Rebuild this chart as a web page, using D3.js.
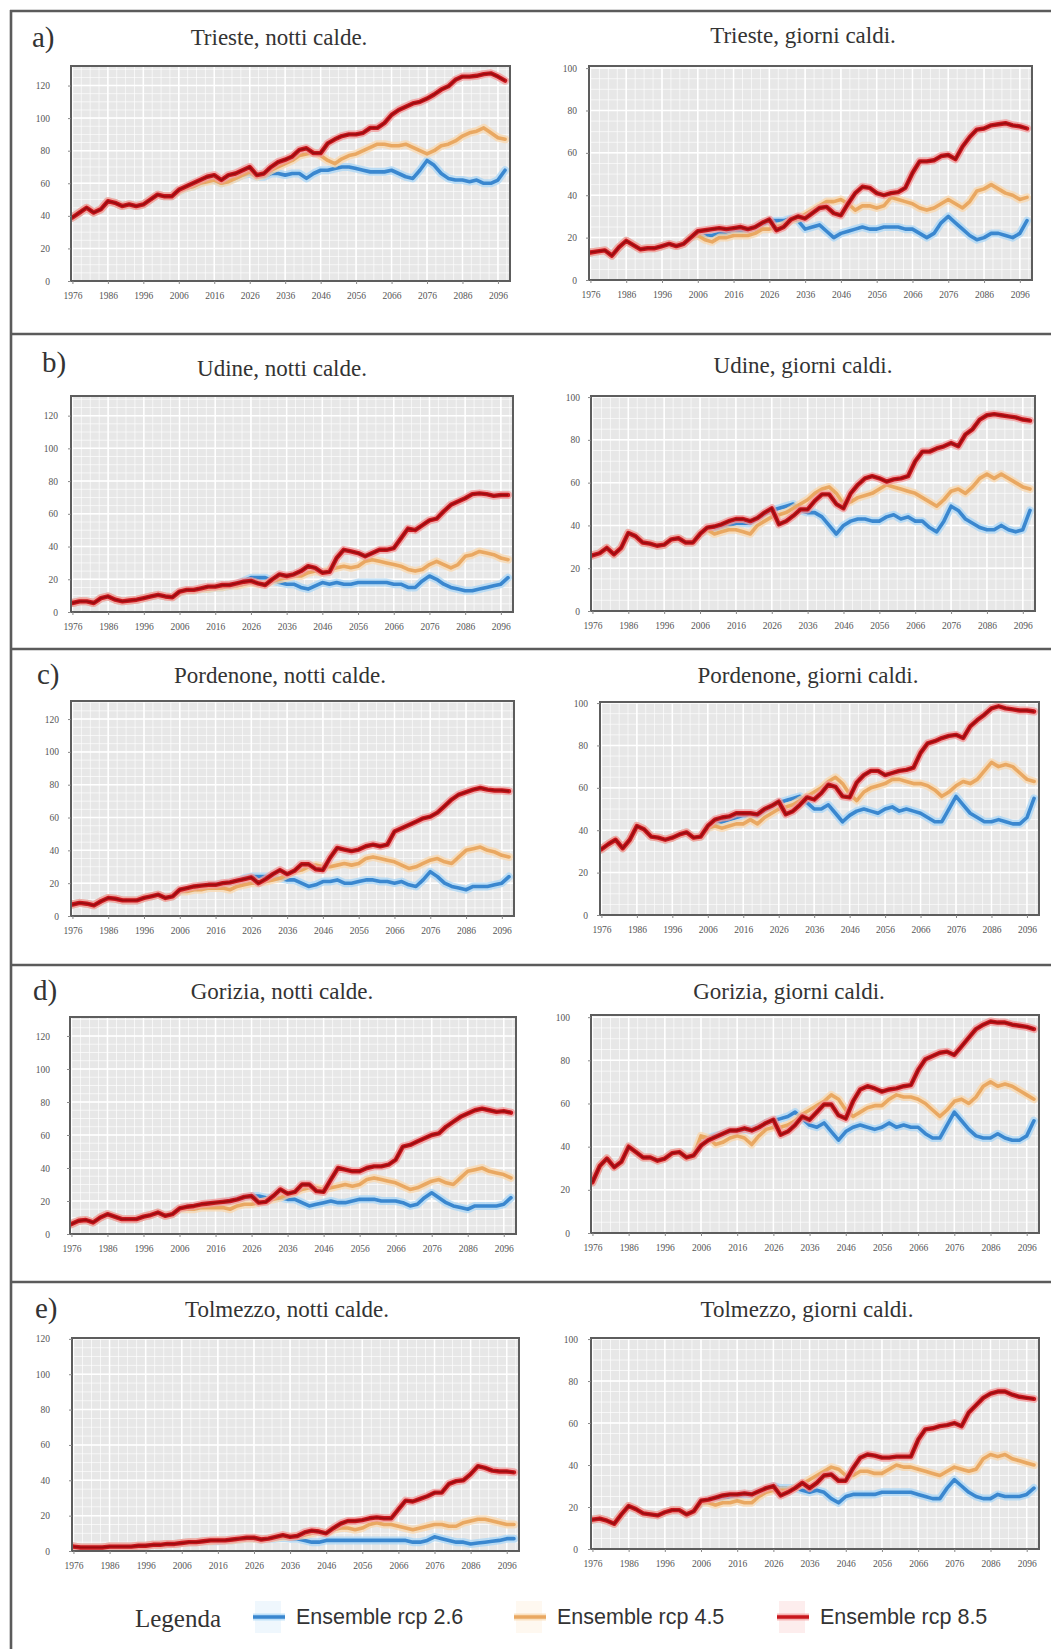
<!DOCTYPE html>
<html><head><meta charset="utf-8">
<script src="https://cdn.jsdelivr.net/npm/d3@7"></script>
<style>body{margin:0;background:#fff} svg{display:block}</style>
</head><body>
<svg id="c" width="1051" height="1649"></svg>
<script>
// ---------- categories / ticks ----------
const histYears = d3.range(1976, 2005, 2);   // 1976..2004
const scenYears = d3.range(2006, 2099, 2);   // 2006..2098
const xTickLabels = ["1976","1986","1996","2006","2016","2026","2036","2046","2056","2066","2076","2086","2096"];
const nightTicks = [0,20,40,60,80,100,120];
const dayTicks = [0,20,40,60,80,100];
const seriesNames = ["Ensemble rcp 2.6","Ensemble rcp 4.5","Ensemble rcp 8.5"];
const rowLetters = ["a)","b)","c)","d)","e)"];
const panelTitles = ["Trieste, notti calde.","Trieste, giorni caldi.","Udine, notti calde.","Udine, giorni caldi.",
  "Pordenone, notti calde.","Pordenone, giorni caldi.","Gorizia, notti calde.","Gorizia, giorni caldi.",
  "Tolmezzo, notti calde.","Tolmezzo, giorni caldi."];

// ---------- data (hist 1976-2004 every 2 yrs; scenarios 2006-2098 every 2 yrs) ----------
const triesteNottiHist = [39,42,45,42,44,49,48,46,47,46,47,50,53,52,52];
const triesteNotti85 = [56,58,60,62,64,65,62,65,66,68, 70,65,66,70,73,74.5,76.5,80.5,81.5,78.5, 78.5,84.5,87,89,90,90,91,94,94,97, 102,105,107,109,110,112,114.5,117.5,119.5,123.5, 125.5,125.5,126,127,127.5,125.5,123];
const triesteNotti45 = [55,57,58,60,61,62,60,61,63,65, 67,64,65,68,70,72,74,77,78,79, 77,74,72,75,77,78,80,82,84,84, 83,83,84,82,80,78,80,83,84,86, 89,91,92,94,91,88,87];
const triesteNotti26 = [55,57,58,60,62,62,60,62,63,65, 66,64,64,66,66,65,66,66,63,66, 68,68,69,70,70,69,68,67,67,67, 68,66,64,63,68,74,71,66,63,62, 62,61,62,60,60,62,68];

const triesteGiorniHist = [13,13.5,14,11.5,15.5,18.5,16.5,14.5,15,15,16,17,16,17,20];
const triesteGiorni85 = [23,23.5,24,24.5,24,24.5,25,24,25,27, 28.5,23.5,25,28.5,30,29,31.5,34,34.5,31.5, 30.5,36,41,44,43.5,41,40,41,41.5,43.5, 50.5,56,56,56.5,58.5,59,57,63,67.5,71, 71.5,73,73.5,74,73,72.5,71.5];
const triesteGiorni45 = [21,19,18,20,20,21,21,21,22,24, 24,25,26,28,29,31,33,35,37,37, 38,36,33,35,35,34,35,39,38,37, 36,34,33,34,36,38,36,34,37,42, 43,45,43,41,40,38,39];
const triesteGiorni26 = [21,21,21,22,22,23,23,23,24,26, 28,28,28,29,28,24,25,26,23,20, 22,23,24,25,24,24,25,25,25,24, 24,22,20,22,27,30,27,24,21,19, 20,22,22,21,20,22,28];

const udineNottiHist = [5.5,6.5,6.5,5.5,8.5,9.5,7.5,6.5,7,7.5,8.5,9.5,10.5,9.5,9];
const udineNotti85 = [12.5,13.5,13.5,14.5,15.5,15.5,16.5,16.5,17.5,18.5, 19,17.5,16.5,20,23,22,23,25,28,27, 24,24.5,33,38,37,36,34,36,38,38, 39,45,51,50,53,56,57,61.5,65.5,67.5, 69.5,72,72.5,72,71,71.5,71.5];
const udineNotti45 = [12,13,13,14,14,15,15,16,16,17, 18,17,17,19,20,21,22,22,24,25, 24,26,27,28,27,28,31,32,31,30, 29,28,26,25,26,29,31,29,27,29, 34,35,37,36,35,33,32];
const udineNotti26 = [12,13,13,14,14,15,15,16,17,19, 21,21,21,19,18,17,17,15,14,16, 18,17,18,17,17,18,18,18,18,18, 17,17,15,15,19,22,20,17,15,14, 13,13,14,15,16,17,21];

const udineGiorniHist = [26,27,29.5,26.5,29.5,36.5,35,32,31.5,30.5,31,33.5,34,32,32];
const udineGiorni85 = [36,39,39.5,40.5,42,43,43,42,43.5,46, 48,40.5,42,44.5,47.5,47.5,51.5,54.5,54.5,50, 48,55,59,62,63,62,60.5,61.5,62,63, 70,74.5,74.5,76,77,78.5,77,82.5,85,89.5, 91.5,92,91.5,91,90.5,89.5,89];
const udineGiorni45 = [36,38,36,37,38,38,37,36,40,42, 44,45,46,48,50,52,55,57,58,55, 50,51,53,54,55,57,59,58,57,56, 55,53,51,49,52,56,57,55,58,62, 64,62,64,62,60,58,57];
const udineGiorni26 = [36,38,38,39,40,41,41,41,43,45, 47,48,49,50,47,46,46,44,40,36, 40,42,43,43,42,42,44,45,43,44, 42,42,39,37,42,49,47,43,41,39, 38,38,40,38,37,38,47];

const pordenoneNottiHist = [7,8,7.5,6.5,9,11,10.5,9.5,9.5,9.5,11,12,13,11,12];
const pordenoneNotti85 = [16,17,18,18.5,19,19,20,20.5,21.5,22.5, 23.5,20,22.5,25.5,28,25.5,27.5,31.5,31.5,28.5, 28,35.5,41.5,40.5,39.5,40.5,42.5,43.5,42.5,43.5, 51.5,53.5,55.5,57.5,59.5,60.5,63,67,71,74, 75.5,77,78,77,76.5,76.5,76];
const pordenoneNotti45 = [15,15,16,16,17,17,17,16,18,19, 20,20,21,22,23,25,27,28,30,31, 30,30,31,32,31,32,35,36,35,34, 33,31,29,30,32,34,35,33,32,36, 40,41,42,40,39,37,36];
const pordenoneNotti26 = [15,16,17,18,18,19,19,20,21,23, 24,24,24,24,23,22,22,20,18,19, 21,21,22,20,20,21,22,22,21,21, 20,21,19,18,22,27,24,20,18,17, 16,18,18,18,19,20,24];

const pordenoneGiorniHist = [31,33.5,35.5,31.5,35.5,42,40.5,37,36.5,35.5,36.5,38,39,36.5,37];
const pordenoneGiorni85 = [42,45,46,46.5,48,48,48,47.5,50,51.5, 53.5,47.5,49,52,55.5,54.5,57.5,61.5,60.5,56, 55.5,62.5,66,68,68,66,67,68,68.5,69.5, 76.5,81,82,83.5,84.5,85,83.5,89,92,94.5, 97.5,98.5,97.5,97,96.5,96.5,96];
const pordenoneGiorni45 = [41,42,41,42,43,43,45,43,46,48, 50,51,52,54,56,58,60,63,65,62, 57,54,58,60,61,62,64,64,63,62, 62,61,59,56,58,61,63,62,64,68, 72,70,71,70,67,64,63];
const pordenoneGiorni26 = [41,43,44,45,46,47,47,47,49,51, 53,54,55,56,53,50,50,52,48,44, 47,49,50,49,48,50,51,49,50,49, 48,46,44,44,50,56,52,48,46,44, 44,45,44,43,43,46,55];

const goriziaNottiHist = [6,8,8.5,7,10,12,10.5,9,9,9,10.5,11.5,13,11,12];
const goriziaNotti85 = [15.5,16.5,17,18,18.5,19,19.5,20,21,22.5, 23,19,19.5,23,27,24.5,25.5,30,30,26, 25.5,33,40,39,38,38,40,41,41,42, 45,53,54,56,58,60,61,65,68,71, 73,75,76,75,74,74.5,73.5];
const goriziaNotti45 = [15,15,15,16,16,16,16,15,17,18, 18,19,20,21,22,24,25,27,28,28, 27,28,29,30,29,30,33,34,33,32, 31,29,27,28,30,32,33,31,30,34, 38,39,40,38,37,36,34];
const goriziaNotti26 = [15,16,16,17,18,18,19,20,21,22, 23,23,22,22,22,21,21,19,17,18, 19,20,19,19,20,21,21,21,20,20, 20,19,17,18,22,25,22,19,17,16, 15,17,17,17,17,18,22];

const goriziaGiorniHist = [23.5,31,34.5,30.5,33,40,37.5,35,35,33.5,34.5,37,37.5,35,36];
const goriziaGiorni85 = [40.5,43,44.5,46,47.5,47.5,48.5,47.5,49,51, 52.5,45.5,47,50,54,52.5,56,59.5,59.5,54.5, 53,61,66.5,68,67,65.5,66.5,67,68,68.5, 75.5,80.5,82,83.5,84,82.5,86.5,90.5,94.5,96.5, 98,97.5,97.5,96.5,96,95.5,94.5];
const goriziaGiorni45 = [45,44,41,42,44,45,44,41,45,48, 49,49,50,52,55,57,59,61,64,62, 57,54,56,58,59,59,62,64,63,63, 62,60,57,54,57,61,62,60,63,68, 70,68,69,68,66,64,62];
const goriziaGiorni26 = [42,44,45,46,47,47,48,48,49,51, 52,53,54,56,53,50,49,51,47,43, 47,49,50,49,48,49,51,49,50,49, 49,46,44,44,50,56,52,48,45,44, 44,46,44,43,43,45,52];

const tolmezzoNottiHist = [2.5,2,2,2,2,2.5,2.5,2.5,2.5,3,3,3.5,3.5,4,4];
const tolmezzoNotti85 = [4.5,5,5,5.5,6,6,6,6.5,7,7.5, 7.5,6.5,7,8,9,8,8.5,10.5,11.5,11, 10,13,15.5,17,17,17.5,18.5,19,18.5,18.5, 23.5,28.5,28,29.5,31,33,33,38,39.5,40, 43.5,48,47,45.5,45,45,44.5];
const tolmezzoNotti45 = [4.5,5,5,5.5,5.5,6,6,6,6.5,7, 7,6.5,7,7.5,8,8,8.5,9,10,11, 10,12,13,13,12,13,15,16,15,15, 14,13,12,13,14,15,15,14,14,16, 17,18,18,17,16,15,15];
const tolmezzoNotti26 = [4.5,5,5,5.5,5.5,5.5,6,6,6.5,7, 7,6.5,7,7,7.5,7,7,6,5,5, 6,6,6,6,6,6,6,6,6,6, 6,6,5,5,6,8,7,6,5,5, 4,4.5,5,5.5,6,7,7];

const tolmezzoGiorniHist = [14,14.5,13.5,12,16.5,20.5,19,17,16.5,16,17.5,18.5,18.5,16.5,18];
const tolmezzoGiorni85 = [23,23.5,24.5,25.5,26,26,26.5,26,27.5,29, 30,25.5,27,29,31.5,29,31.5,35,35.5,32.5, 32.5,38.5,43.5,45,44.5,43.5,43.5,44,44,44, 52,57,57.5,58.5,59,60,58.5,65,68.5,72, 74,75,75,73.5,72.5,72,71.5];
const tolmezzoGiorni45 = [22,22,21,22,22,23,22,22,25,27, 28,28,28,29,31,33,35,37,39,38, 35,35,37,37,36,36,38,40,39,39, 38,37,36,35,37,39,38,37,38,43, 45,44,45,43,42,41,40];
const tolmezzoGiorni26 = [22,23,24,24,25,25,26,26,27,28, 30,29,29,29,28,27,28,27,24,22, 25,26,26,26,26,27,27,27,27,27, 26,25,24,24,29,33,30,27,25,24, 24,26,25,25,25,26,29];

// ---------- layout (positions only) ----------
const panelData = [
  [triesteNottiHist, triesteNotti26, triesteNotti45, triesteNotti85],
  [triesteGiorniHist, triesteGiorni26, triesteGiorni45, triesteGiorni85],
  [udineNottiHist, udineNotti26, udineNotti45, udineNotti85],
  [udineGiorniHist, udineGiorni26, udineGiorni45, udineGiorni85],
  [pordenoneNottiHist, pordenoneNotti26, pordenoneNotti45, pordenoneNotti85],
  [pordenoneGiorniHist, pordenoneGiorni26, pordenoneGiorni45, pordenoneGiorni85],
  [goriziaNottiHist, goriziaNotti26, goriziaNotti45, goriziaNotti85],
  [goriziaGiorniHist, goriziaGiorni26, goriziaGiorni45, goriziaGiorni85],
  [tolmezzoNottiHist, tolmezzoNotti26, tolmezzoNotti45, tolmezzoNotti85],
  [tolmezzoGiorniHist, tolmezzoGiorni26, tolmezzoGiorni45, tolmezzoGiorni85]
];
const layout = [
  {box:[71,66,510,281],   ymax:132, gap:21, tx:279, ty:45},
  {box:[589,66,1032,280], ymax:101, gap:12, tx:803, ty:43},
  {box:[71,396,513,612],  ymax:132, gap:13, tx:282, ty:376},
  {box:[591,396,1035,611],ymax:100.5, gap:11, tx:803, ty:373},
  {box:[71,701,514,916],  ymax:131, gap:12, tx:280, ty:683},
  {box:[600,702,1039,915],ymax:100.5, gap:12, tx:808, ty:683},
  {box:[70,1017,516,1234],ymax:131.5, gap:20, tx:282, ty:999},
  {box:[591,1015,1039,1233],ymax:101, gap:21, tx:789, ty:999},
  {box:[72,1338,519,1551],ymax:120.5, gap:22, tx:287, ty:1317},
  {box:[591,1338,1039,1549],ymax:100.5, gap:13, tx:807, ty:1317}
];
const letterPos = [[32,47],[42,372],[37,684],[33,1000],[35,1318]];
const separators = [334, 649, 965, 1282];

const colors = {
  core: ["#3a87cf", "#e9a862", "#c8171d"],
  halo: ["#a9d5f6", "#f8d7ad", "#f29a9a"],
  dark: [null, null, "#8e0a0e"]
};

const svg = d3.select("#c");
svg.append("rect").attr("width",1051).attr("height",1649).attr("fill","#fff");

// frame
const frame = svg.append("g").attr("stroke","#5b5b5b").attr("stroke-width",2.6).attr("fill","none");
frame.append("line").attr("x1",11).attr("x2",11).attr("y1",10).attr("y2",1649);
frame.append("line").attr("x1",10).attr("x2",1051).attr("y1",11).attr("y2",11);
separators.forEach(s => frame.append("line").attr("x1",10).attr("x2",1051).attr("y1",s).attr("y2",s));

rowLetters.forEach((t,i) => {
  svg.append("text").attr("x",letterPos[i][0]).attr("y",letterPos[i][1])
    .attr("font-family","Liberation Serif, serif").attr("font-size",29).attr("fill","#333").text(t);
});

panelData.forEach((pd, idx) => {
  const L = layout[idx];
  const [x0,y0,x1,y1] = L.box;
  const isNight = idx % 2 === 0;
  const ticks = isNight ? nightTicks : dayTicks;
  const g = svg.append("g");
  const x = d3.scaleLinear().domain([1975.6, 2099.4]).range([x0, x1]);
  const y = d3.scaleLinear().domain([0, L.ymax]).range([y1, y0]);

  g.append("rect").attr("x",x0).attr("y",y0).attr("width",x1-x0).attr("height",y1-y0).attr("fill","#e7e7e7");
  // minor grid
  const grid = g.append("g").attr("stroke","#fff");
  d3.range(1976, 2100, 2.5).forEach(v => grid.append("line").attr("x1",x(v)).attr("x2",x(v)).attr("y1",y0).attr("y2",y1).attr("stroke-width",0.8).attr("opacity",0.85));
  d3.range(0, L.ymax, 5).forEach(v => grid.append("line").attr("x1",x0).attr("x2",x1).attr("y1",y(v)).attr("y2",y(v)).attr("stroke-width",0.8).attr("opacity",0.85));
  xTickLabels.forEach(t => grid.append("line").attr("x1",x(+t)).attr("x2",x(+t)).attr("y1",y0).attr("y2",y1).attr("stroke-width",1.5));
  ticks.forEach(v => grid.append("line").attr("x1",x0).attr("x2",x1).attr("y1",y(v)).attr("y2",y(v)).attr("stroke-width",1.5));

  // clip
  const cid = "clip" + idx;
  svg.append("clipPath").attr("id",cid).append("rect").attr("x",x0).attr("y",y0-3).attr("width",x1-x0).attr("height",y1-y0+3);
  const lg = g.append("g").attr("clip-path",`url(#${cid})`);
  const line = d3.line().x(d=>x(d[0])).y(d=>y(d[1]));
  const hist = pd[0].map((v,i)=>[histYears[i], v]);
  [1,2,3].forEach(k => {
    const pts = hist.concat(pd[k].map((v,i)=>[scenYears[i], v]));
    const c = k-1;
    lg.append("path").datum(pts).attr("d",line).attr("fill","none").attr("stroke",colors.halo[c])
      .attr("stroke-width",8).attr("stroke-opacity",0.75).attr("stroke-linejoin","round").attr("stroke-linecap","round");
    lg.append("path").datum(pts).attr("d",line).attr("fill","none").attr("stroke",colors.core[c])
      .attr("stroke-width", c===2 ? 4.4 : 3.6).attr("stroke-linejoin","round").attr("stroke-linecap","round");
    if (colors.dark[c]) {
      lg.append("path").datum(pts).attr("d",line).attr("fill","none").attr("stroke",colors.dark[c])
        .attr("stroke-width",1.8).attr("stroke-opacity",0.8).attr("stroke-linejoin","round");
    }
  });

  // border
  g.append("rect").attr("x",x0).attr("y",y0).attr("width",x1-x0).attr("height",y1-y0)
    .attr("fill","none").attr("stroke","#5d5d5d").attr("stroke-width",2);

  // axes
  const ax = g.append("g").attr("transform",`translate(0,${y1})`)
    .call(d3.axisBottom(x).tickValues(xTickLabels.map(Number)).tickFormat(d3.format("d")).tickSize(3).tickPadding(8));
  ax.select(".domain").remove();
  ax.selectAll("line").attr("stroke","#888");
  ax.selectAll("text").attr("font-family","Liberation Serif, serif").attr("font-size",9.5).attr("fill","#555");

  const ay = g.append("g").attr("transform",`translate(${x0},0)`)
    .call(d3.axisLeft(y).tickValues(ticks).tickSize(3).tickPadding(L.gap-3));
  ay.select(".domain").remove();
  ay.selectAll("line").attr("stroke","#888");
  ay.selectAll("text").attr("font-family","Liberation Serif, serif").attr("font-size",9.5).attr("fill","#555");

  g.append("text").attr("x",L.tx).attr("y",L.ty).attr("text-anchor","middle")
    .attr("font-family","Liberation Serif, serif").attr("font-size",23).attr("fill","#333").text(panelTitles[idx]);
});

// legend
const leg = svg.append("g");
leg.append("text").attr("x",135).attr("y",1627).attr("font-family","Liberation Serif, serif")
  .attr("font-size",25).attr("fill","#333").text("Legenda");
const legX = [253, 514, 777];
seriesNames.forEach((n,i) => {
  const lx = legX[i];
  leg.append("rect").attr("x",lx+2).attr("y",1601).attr("width",26).attr("height",32).attr("fill",colors.halo[i]).attr("opacity",0.18);
  leg.append("line").attr("x1",lx).attr("x2",lx+32).attr("y1",1617).attr("y2",1617)
    .attr("stroke",colors.halo[i]).attr("stroke-width",7).attr("stroke-opacity",0.7);
  leg.append("line").attr("x1",lx).attr("x2",lx+32).attr("y1",1617).attr("y2",1617)
    .attr("stroke",colors.core[i]).attr("stroke-width",3.5);
  leg.append("text").attr("x",lx+43).attr("y",1624).attr("font-family","Liberation Sans, Arial, sans-serif")
    .attr("font-size",21.5).attr("fill","#333").text(n);
});
</script>
</body></html>
